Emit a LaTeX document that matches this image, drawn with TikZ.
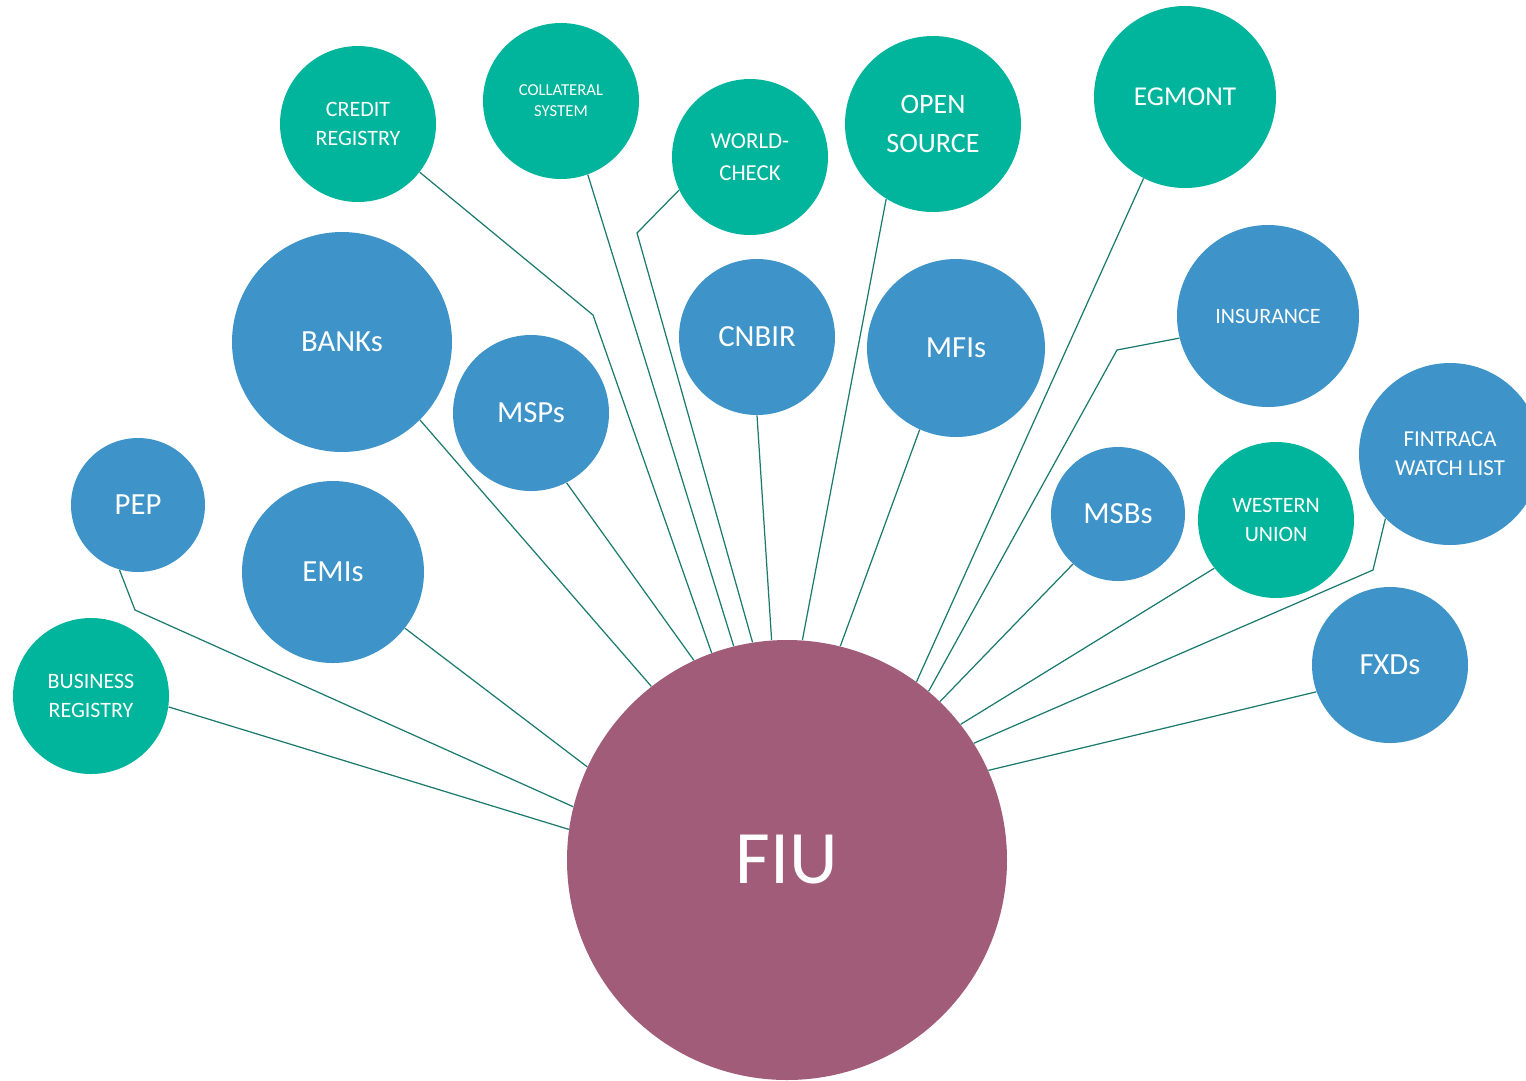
\documentclass[tikz,border=0pt]{standalone}
\usepackage{fontspec}
\setmainfont{Carlito}
\definecolor{teal1}{HTML}{00B59B}
\definecolor{blue1}{HTML}{3E94C9}
\definecolor{fiu}{HTML}{A05C78}
\definecolor{wire}{HTML}{1B7A6E}
\begin{document}
\begin{tikzpicture}[x=0.02cm,y=-0.02cm,
  bub/.style={circle,minimum size=#1*0.02cm,inner sep=0pt,text=white,align=center},
  tb/.style={bub=#1,fill=teal1},
  bb/.style={bub=#1,fill=blue1},
  wire/.style={draw=wire,line width=0.7pt},
  fA/.style={font=\fontsize{17.5}{20}\selectfont},
  fB/.style={font=\fontsize{12.5}{16.5}\selectfont},
  fC/.style={font=\fontsize{9.5}{12}\selectfont}]
\useasboundingbox (0,0) rectangle (1526,1080);
% bend points
\coordinate (crK) at (593,315);
\coordinate (wcK) at (637,233);
\coordinate (inK) at (1117,350);
\coordinate (peK) at (135,610);
\coordinate (ftK) at (1373,570);
% nodes
\node[bub=440,fill=fiu,font=\fontsize{43}{48}\selectfont] (fiu) at (787,860) {FIU};
\node[tb=156,fB] (cr) at (358,124) {CREDIT\\REGISTRY};
\node[tb=156,fC] (co) at (561,101) {COLLATERAL\\SYSTEM};
\node[tb=156,font=\fontsize{13}{18}\selectfont] (wc) at (750,157) {WORLD-\\CHECK};
\node[tb=176,font=\fontsize{16}{22}\selectfont] (os) at (933,124) {OPEN\\SOURCE};
\node[tb=182,font=\fontsize{15.5}{20}\selectfont] (eg) at (1185,97) {EGMONT};
\node[bb=220,fA] (ba) at (342,342) {BANKs};
\node[bb=156,fA] (ms) at (531,413) {MSPs};
\node[bb=156,fA] (cn) at (757,337) {CNBIR};
\node[bb=178,fA] (mf) at (956,348) {MFIs};
\node[bb=182,fB] (in) at (1268,316) {INSURANCE};
\node[bb=134,fA] (pe) at (138,505) {PEP};
\node[bb=182,fA] (em) at (333,572) {EMIs};
\node[bb=134,fA] (mb) at (1118,514) {MSBs};
\node[tb=156,fB] (wu) at (1276,520) {WESTERN\\UNION};
\node[bb=182,font=\fontsize{13}{16.5}\selectfont] (ft) at (1450,454) {FINTRACA\\WATCH LIST};
\node[bb=156,fA] (fx) at (1390,665) {FXDs};
\node[tb=156,fB] (br) at (91,696) {BUSINESS\\REGISTRY};
% connectors
\path[wire] (cr.322.3) -- (crK) -- (fiu.110.3);
\path[wire] (co.290.8) -- (fiu.104.2);
\path[wire] (wc.205.2) -- (wcK) -- (fiu.99.7);
\path[wire] (os.238.8) -- (fiu.86.6);
\path[wire] (eg.243.7) -- (fiu.54.6);
\path[wire] (ba.315.4) -- (fiu.128.9);
\path[wire] (ms.297.2) -- (fiu.115.6);
\path[wire] (cn.270) -- (fiu.94.4);
\path[wire] (mf.246.4) -- (fiu.76.2);
\path[wire] (in.194) -- (inK) -- (fiu.50.7);
\path[wire] (pe.254.9) -- (peK) -- (fiu.166.8);
\path[wire] (em.322.1) -- (fiu.155.2);
\path[wire] (mb.228.6) -- (fiu.46.3);
\path[wire] (wu.218.8) -- (fiu.38.3);
\path[wire] (ft.225.9) -- (ftK) -- (fiu.32.0);
\path[wire] (fx.200) -- (fiu.24.1);
\path[wire] (br.352.6) -- (fiu.172.9);
\end{tikzpicture}
\end{document}
